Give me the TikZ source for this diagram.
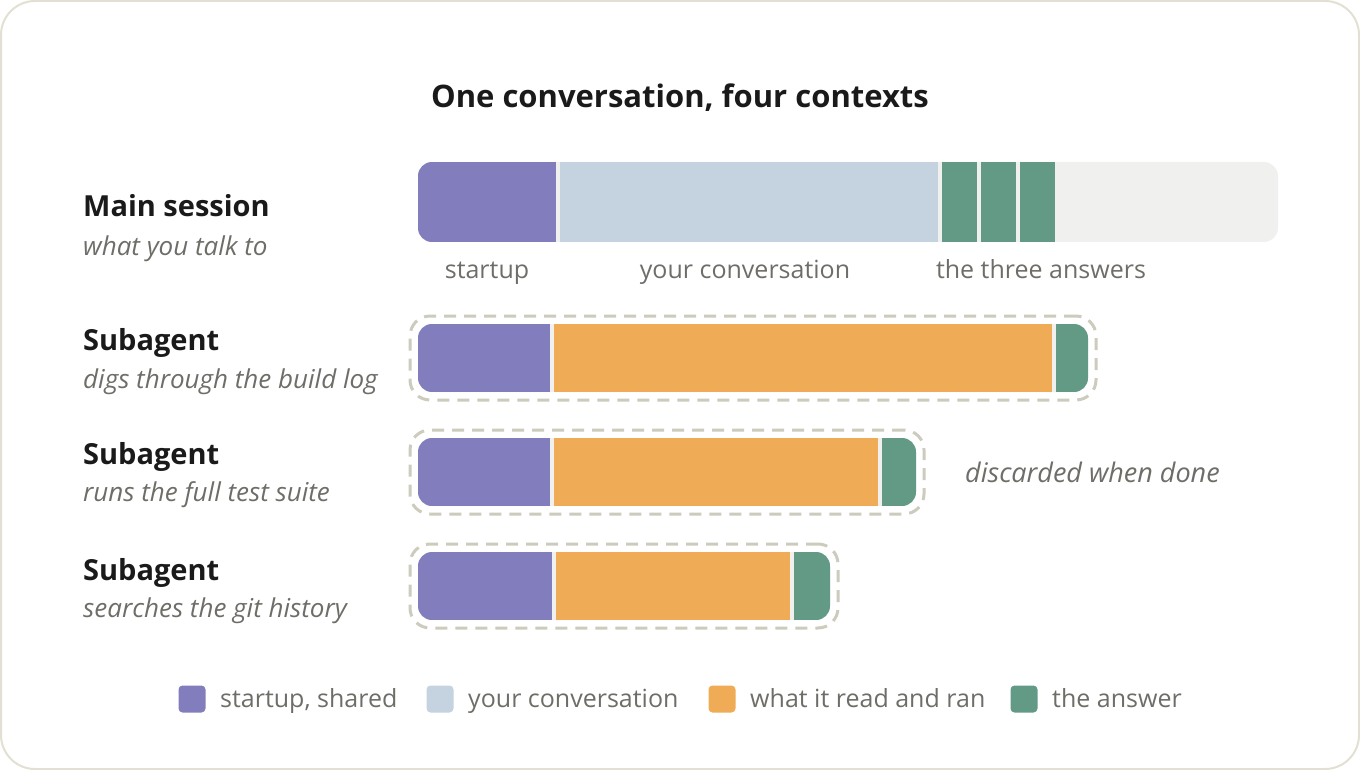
\documentclass[tikz,border=0pt]{standalone}
\usepackage{fontspec}
\setmainfont{Open Sans}
\usetikzlibrary{positioning,fit}
\definecolor{startcolor}{RGB}{130,125,189}
\definecolor{convcolor}{RGB}{197,211,224}
\definecolor{readcolor}{RGB}{239,171,85}
\definecolor{answercolor}{RGB}{98,154,134}
\definecolor{barcolor}{RGB}{240,240,238}
\definecolor{dashcolor}{RGB}{205,203,189}
\definecolor{framecolor}{RGB}{226,223,211}
\definecolor{darktext}{RGB}{26,26,26}
\definecolor{graytext}{RGB}{110,109,104}

\begin{document}
\begin{tikzpicture}[%
    x=1pt, y=-1pt,              % one unit is one pixel, y runs down
    node distance=4pt and 4pt,  % gap between the pieces of a bar
    ]
\tikzset{
  seg/.style={inner sep=0pt, outer sep=0pt, minimum height=68pt},
  mainseg/.style={seg, minimum height=80pt},
  barbox/.style={seg, anchor=west, rounded corners=14pt},
  subbox/.style={draw=dashcolor, line width=3pt, dash pattern=on 12pt off 8pt,
    rounded corners=20pt, inner sep=8pt},
  head/.style={anchor=base west, inner sep=0pt, text=darktext,
    font=\fontsize{29}{33}\selectfont\bfseries},
  note/.style={anchor=base west, inner sep=0pt, text=graytext,
    font=\fontsize{26}{30}\selectfont\itshape},
  barlabel/.style={anchor=base, inner sep=0pt, text=graytext,
    font=\fontsize{25}{29}\selectfont},
  key/.style={minimum size=27pt, inner sep=0pt, rounded corners=4pt},
  keytext/.style={anchor=base west, inner sep=0pt, text=graytext,
    font=\fontsize{25}{29}\selectfont},
}

\useasboundingbox (0,0) rectangle (1360,770);
\draw [framecolor, line width=2pt, rounded corners=34pt] (1,1) rectangle (1359,769);

\node [anchor=base, inner sep=0pt, text=darktext,
  font=\fontsize{31}{35}\selectfont\bfseries] (title) at (680,108)
  {One conversation, four contexts};

% main session
\node [head] (h0) at (83,217) {Main session};
\node [note] (n0) at (83,255) {what you talk to};
\node [barbox, minimum height=80pt, minimum width=860pt, fill=barcolor] (b0) at (418,202) {};
\begin{scope}
  \path [clip, rounded corners=14pt] (b0.north west) rectangle (b0.south east);
  \node [mainseg, anchor=west, fill=startcolor, minimum width=138pt] (m1) at (b0.west) {};
  \node [mainseg, right=of m1, fill=convcolor, minimum width=378pt] (m2) {};
  \node [mainseg, right=of m2, fill=answercolor, minimum width=35pt] (m3) {};
  \node [mainseg, right=of m3, fill=answercolor, minimum width=35pt] (m4) {};
  \node [mainseg, right=of m4, fill=answercolor, minimum width=35pt] (m5) {};
\end{scope}
\node [barlabel] (l1) at (487,278) {startup};
\node [barlabel] (l2) at (745,278) {your conversation};
\node [barlabel] (l3) at (1041,278) {the three answers};

% subagents
\node [head] (h1) at (83,350) {Subagent};
\node [note] (n1) at (83,388) {digs through the build log};
\node [barbox, minimum width=670pt, fill=barcolor] (b1) at (418,358) {};
\begin{scope}
  \path [clip, rounded corners=14pt] (b1.north west) rectangle (b1.south east);
  \node [seg, anchor=west, fill=startcolor, minimum width=132pt] (a1) at (b1.west) {};
  \node [seg, right=of a1, fill=readcolor, minimum width=498pt] (a2) {};
  \node [seg, right=of a2, fill=answercolor, minimum width=40pt] (a3) {};
\end{scope}
\node [subbox, fit=(b1)] (f1) {};

\node [head] (h2) at (83,464) {Subagent};
\node [note] (n2) at (83,501) {runs the full test suite};
\node [barbox, minimum width=498pt, fill=barcolor] (b2) at (418,472) {};
\begin{scope}
  \path [clip, rounded corners=14pt] (b2.north west) rectangle (b2.south east);
  \node [seg, anchor=west, fill=startcolor, minimum width=132pt] (c1) at (b2.west) {};
  \node [seg, right=of c1, fill=readcolor, minimum width=324pt] (c2) {};
  \node [seg, right=of c2, fill=answercolor, minimum width=40pt] (c3) {};
\end{scope}
\node [subbox, fit=(b2)] (f2) {};
\node [note, font=\fontsize{27}{31}\selectfont\itshape] (n4) at (965,482) {discarded when done};

\node [head] (h3) at (83,580) {Subagent};
\node [note] (n3) at (83,617) {searches the git history};
\node [barbox, minimum width=412pt, fill=barcolor] (b3) at (418,586) {};
\begin{scope}
  \path [clip, rounded corners=14pt] (b3.north west) rectangle (b3.south east);
  \node [seg, anchor=west, fill=startcolor, minimum width=134pt] (d1) at (b3.west) {};
  \node [seg, right=of d1, fill=readcolor, minimum width=234pt] (d2) {};
  \node [seg, right=of d2, fill=answercolor, minimum width=40pt] (d3) {};
\end{scope}
\node [subbox, fit=(b3)] (f3) {};

% legend
\node [key, fill=startcolor] (k1) at (192,699) {};
\node [keytext] (t1) at (220,707) {startup, shared};
\node [key, fill=convcolor] (k2) at (440,699) {};
\node [keytext] (t2) at (468,707) {your conversation};
\node [key, fill=readcolor] (k3) at (722,699) {};
\node [keytext] (t3) at (750,707) {what it read and ran};
\node [key, fill=answercolor] (k4) at (1024,699) {};
\node [keytext] (t4) at (1052,707) {the answer};

\end{tikzpicture}
\end{document}
